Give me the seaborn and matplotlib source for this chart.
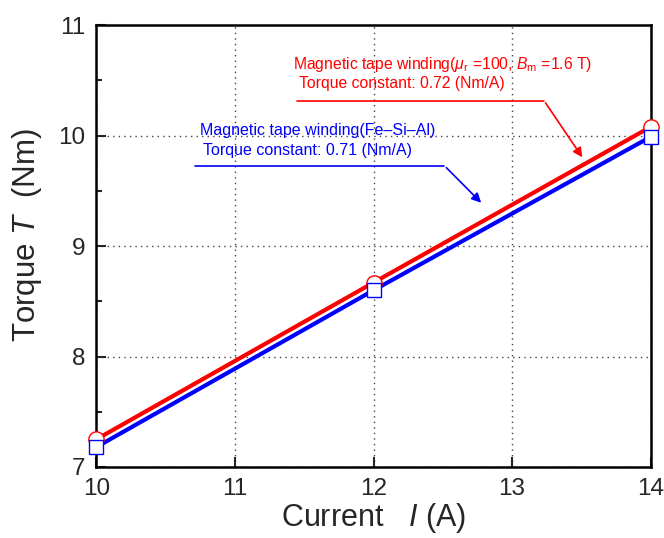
import pandas as pd
import seaborn as sns
import matplotlib.pyplot as plt
from matplotlib.ticker import MultipleLocator

# data
current = [10, 12, 14]
torque_mu100 = [7.25, 8.67, 10.08]
torque_fesial = [7.18, 8.60, 9.99]

df = pd.DataFrame({
    'current': current * 2,
    'torque': torque_mu100 + torque_fesial,
    'series': ['mu100'] * 3 + ['fesial'] * 3,
})

sns.set_style('ticks')
plt.rcParams['font.family'] = ['Liberation Sans', 'DejaVu Sans']
plt.rcParams['mathtext.fontset'] = 'custom'
plt.rcParams['mathtext.it'] = 'Liberation Sans:italic'
plt.rcParams['mathtext.rm'] = 'Liberation Sans'

fig = plt.figure(figsize=(6.64, 5.38), dpi=100)
ax = fig.add_axes([0.145, 0.132, 0.835, 0.821])

palette = {'mu100': '#ff0000', 'fesial': '#0000ff'}
sns.lineplot(data=df, x='current', y='torque', hue='series', palette=palette,
             linewidth=3, legend=False, ax=ax, zorder=3)

# open markers on top of the lines
red = df[df.series == 'mu100']
blue = df[df.series == 'fesial']
ax.plot(red.current, red.torque, 'o', ms=11, mfc='white', mec='#ff0000', mew=1, zorder=4, clip_on=False)
ax.plot(blue.current, blue.torque, 's', ms=10, mfc='white', mec='#0000ff', mew=1, zorder=5, clip_on=False)

ax.set_xlim(10, 14)
ax.set_ylim(7, 11)
ax.xaxis.set_major_locator(MultipleLocator(1))
ax.yaxis.set_major_locator(MultipleLocator(1))
ax.yaxis.set_minor_locator(MultipleLocator(0.5))
ax.tick_params(which='both', direction='in', labelsize=17.5, width=1.5, top=False, right=False)
ax.tick_params(axis='x', pad=8)
ax.tick_params(axis='y', pad=8)
ax.tick_params(which='major', length=7)
ax.tick_params(which='minor', length=4)
ax.grid(True, which='major', color='#444444', linestyle=(0, (1, 3)), linewidth=1)
for s in ax.spines.values():
    s.set_visible(True)
    s.set_linewidth(1.8)
    s.set_color('black')

ax.set_xlabel('Current   $I$ (A)', fontsize=22, labelpad=1)
ax.set_ylabel('Torque $T$  (Nm)', fontsize=22.5)
ax.yaxis.set_label_coords(-0.095, 0.525)

# annotations
ax.text(11.417, 10.645, r'Magnetic tape winding($\mu_{\rm r}$ =100, $B_{\rm m}$ =1.6 T)',
        color='#ff0000', fontsize=11.3, va='center')
ax.text(11.46, 10.47, 'Torque constant: 0.72 (Nm/A)', color='#ff0000', fontsize=11.3, va='center')
ax.plot([11.446, 13.23], [10.318, 10.318], color='#ff0000', lw=1.2)
ax.annotate('', xy=(13.518, 9.783), xytext=(13.23, 10.318),
            arrowprops=dict(arrowstyle='-|>', color='#ff0000', lw=1.2, mutation_scale=14))

ax.text(10.748, 10.046, 'Magnetic tape winding(Fe\u2013Si\u2013Al)', color='#0000ff', fontsize=11.5, va='center')
ax.text(10.77, 9.865, 'Torque constant: 0.71 (Nm/A)', color='#0000ff', fontsize=11.5, va='center')
ax.plot([10.712, 12.511], [9.729, 9.729], color='#0000ff', lw=1.2)
ax.annotate('', xy=(12.791, 9.375), xytext=(12.511, 9.729),
            arrowprops=dict(arrowstyle='-|>', color='#0000ff', lw=1.2, mutation_scale=14))

plt.savefig('out.png', dpi=100)
